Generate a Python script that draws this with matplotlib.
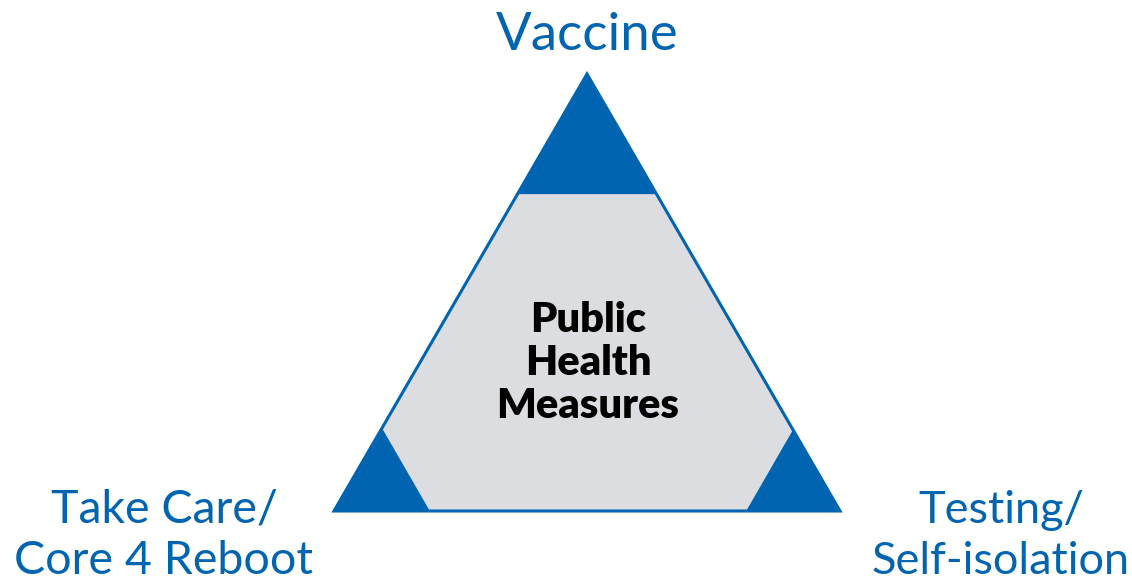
import matplotlib.pyplot as plt
from matplotlib.patches import Polygon

# triangle corners in pixel space (x, y from top)
apex = (587, 74)
left = (334, 511)
right = (840, 511)

# side length of the blue corner triangles
corner_sides = {"top": 138, "left": 95, "right": 93}

labels = ["Vaccine", "Take Care/\nCore 4 Reboot", "Testing/\nSelf-isolation"]
center_label = "Public\nHealth\nMeasures"

BLUE = "#0064b0"
GREY = "#dcdde0"

plt.rcParams['font.family'] = ['Lato', 'DejaVu Sans']

fig = plt.figure(figsize=(11.32, 5.79), dpi=100)
ax = fig.add_axes([0, 0, 1, 1])
ax.set_xlim(0, 1132)
ax.set_ylim(579, 0)
ax.axis('off')


def toward(p, q, d):
    # point at distance d from p going toward q
    L = ((q[0]-p[0])**2 + (q[1]-p[1])**2) ** 0.5
    return (p[0] + (q[0]-p[0]) * d / L, p[1] + (q[1]-p[1]) * d / L)


ax.add_patch(Polygon([apex, left, right], closed=True, facecolor=GREY,
                     edgecolor=BLUE, lw=2.2, joinstyle='miter'))

for key, p, a, b in [("top", apex, left, right),
                     ("left", left, apex, right),
                     ("right", right, apex, left)]:
    s = corner_sides[key]
    ax.add_patch(Polygon([p, toward(p, a, s), toward(p, b, s)], closed=True,
                         facecolor=BLUE, edgecolor=BLUE, lw=1))

ax.text(587, 50, labels[0], color=BLUE, fontsize=38, ha='center', va='baseline')
ax.text(164, 574, labels[1], color=BLUE, fontsize=33.5, ha='center', va='baseline',
        linespacing=1.27, multialignment='center')
ax.text(1001, 574, labels[2], color=BLUE, fontsize=32.5, ha='center', va='baseline',
        linespacing=1.3, multialignment='center')

ax.text(588, 363, center_label, color='black', fontsize=30, fontweight='heavy',
        ha='center', va='center', linespacing=1.15)

fig.savefig("out.png", dpi=100)
